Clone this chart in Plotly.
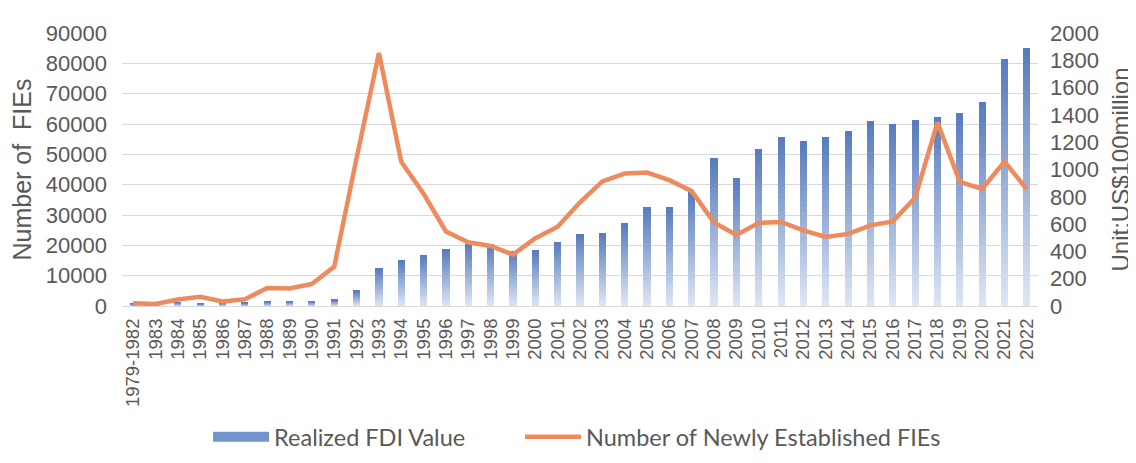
import plotly.graph_objects as go

categories = ["1979-1982", "1983", "1984", "1985", "1986", "1987", "1988", "1989", "1990", "1991",
              "1992", "1993", "1994", "1995", "1996", "1997", "1998", "1999", "2000", "2001",
              "2002", "2003", "2004", "2005", "2006", "2007", "2008", "2009", "2010", "2011",
              "2012", "2013", "2014", "2015", "2016", "2017", "2018", "2019", "2020", "2021", "2022"]

# Realized FDI value, unit: US$100 million (right axis)
fdi_value = [17, 9, 28, 17, 22, 23, 32, 34, 35, 44,
             110, 275, 338, 375, 417, 453, 455, 403, 407, 469,
             527, 535, 606, 724, 727, 835, 1083, 941, 1147, 1240,
             1211, 1239, 1285, 1356, 1337, 1363, 1383, 1412, 1493, 1810, 1891]

# Number of newly established FIEs (left axis)
new_fies = [920, 638, 2166, 3073, 1498, 2233, 5945, 5779, 7273, 12978,
            48764, 83437, 47549, 37011, 24556, 21001, 19799, 16918, 22347, 26140,
            34171, 41081, 43664, 44001, 41473, 37871, 27514, 23435, 27406, 27712,
            24925, 22773, 23778, 26575, 27900, 35652, 60533, 40888, 38570, 47647, 38497]

left_ticks = [0, 10000, 20000, 30000, 40000, 50000, 60000, 70000, 80000, 90000]
right_ticks = [0, 200, 400, 600, 800, 1000, 1200, 1400, 1600, 1800, 2000]

TEXT = "#595959"
GRID = "#D9D9D9"
LINE_COLOR = "#ED8B5E"
BAR_TOP = (88, 124, 191)
BAR_BOTTOM = (221, 229, 243)
N_STEPS = 30


def mix(t):
    r = [round(BAR_BOTTOM[i] + (BAR_TOP[i] - BAR_BOTTOM[i]) * t) for i in range(3)]
    return "rgb(%d,%d,%d)" % tuple(r)


fig = go.Figure()

# gradient bars: each bar stacked from thin slices of its own height
for k in range(N_STEPS):
    fig.add_trace(go.Bar(
        x=categories,
        y=[v / N_STEPS for v in fdi_value],
        marker=dict(color=mix(k / (N_STEPS - 1)), line=dict(width=0)),
        width=0.32,
        yaxis="y",
        showlegend=False,
        hoverinfo="skip",
    ))

# legend entries
fig.add_trace(go.Scatter(x=[None], y=[None], mode="lines", name="Realized FDI Value",
                         line=dict(color="#7294CE", width=11), yaxis="y2", legend="legend"))

fig.add_trace(go.Scatter(
    x=categories, y=new_fies, mode="lines", name="Number of Newly Established FIEs",
    line=dict(color=LINE_COLOR, width=4.5, shape="linear"),
    yaxis="y2", legend="legend2",
))

legend_common = dict(
    orientation="h", y=-0.48, yanchor="middle", xanchor="left",
    font=dict(size=23.5, color=TEXT, family="Lato, Liberation Sans, Arial"),
    itemwidth=56, bgcolor="rgba(0,0,0,0)",
)

fig.update_layout(
    width=1136, height=463,
    margin=dict(l=114, r=106, t=25, b=158),
    paper_bgcolor="white", plot_bgcolor="white",
    barmode="stack",
    font=dict(family="Liberation Sans, Arial, sans-serif", color=TEXT),
    xaxis=dict(
        type="category", categoryorder="array", categoryarray=categories,
        tickangle=-90, tickfont=dict(size=18.5, color=TEXT),
        showgrid=False, showline=True, linecolor=GRID, linewidth=1.3,
        ticks="", automargin=False, ticklabelstandoff=4,
    ),
    yaxis=dict(
        side="right", range=[0, 2000], tickvals=right_ticks, tickformat="d",
        showgrid=False, zeroline=False, showline=False,
        tickfont=dict(size=22, color=TEXT), automargin=False,
        ticklabelstandoff=11,
        title=dict(text="Unit:US$100million", font=dict(size=24, color=TEXT), standoff=14),
    ),
    yaxis2=dict(
        side="left", overlaying="y", range=[0, 90000], tickvals=left_ticks, tickformat="d",
        showgrid=True, gridcolor=GRID, gridwidth=1.3, zeroline=False, showline=False,
        tickfont=dict(size=22, color=TEXT), automargin=False,
        ticklabelstandoff=14,
        title=dict(text="Number of\u00a0 FIEs", font=dict(size=25, color=TEXT), standoff=7),
    ),
    legend=dict(x=0.094, **legend_common),
    legend2=dict(x=0.4345, **legend_common),
)

fig.write_html("out.html")
